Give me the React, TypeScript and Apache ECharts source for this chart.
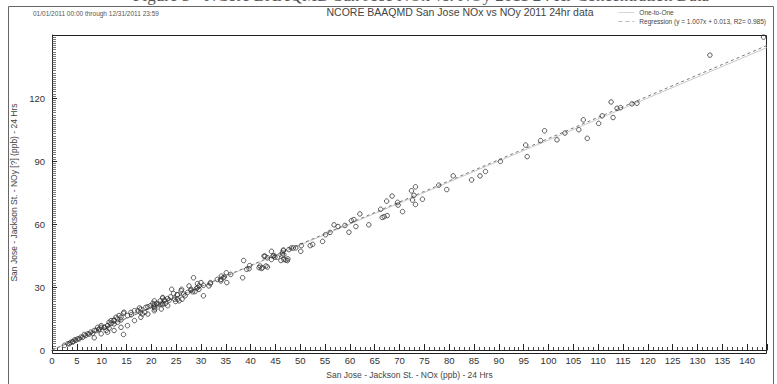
import React, { useEffect, useRef } from "react";
import * as echarts from "echarts";

// NOx (x) vs NOy (y), ppb, 24-hr values
const points: [number, number][] = [
  [143.3, 149], [132.5, 140.4], [117.8, 117.5], [116.8, 117.2], [114.5, 115.4], [113.8, 115.1],
  [112.6, 118.1], [113, 110.7], [110.8, 111.5], [110.1, 107.9], [107, 109.6], [107.8, 100.8],
  [106.1, 104.9], [103.3, 103.3], [101.7, 100.1], [98.4, 99.7], [99.2, 104.4], [95.4, 97.6],
  [95.7, 92.1], [90.3, 89.8], [87.3, 85], [86.2, 82.9], [84.5, 81], [80.8, 82.9], [79.5, 76.4],
  [77.9, 78.5], [74.6, 71.8], [73.2, 77.7], [72.4, 75.8], [72.9, 73.7], [72.6, 71.4], [73.2, 69.3],
  [70.6, 65.9], [69.6, 70.3], [69.7, 69], [68.5, 73.3], [67.4, 70.9], [67.5, 64], [66.5, 63.1],
  [66.9, 63.5], [66.2, 67], [63.8, 59.6], [62, 64.8], [60.8, 62.1], [60.3, 61.6], [61.2, 58.8],
  [59.8, 56.1], [59, 59.3], [57.6, 58.8], [56.8, 59.6], [56, 56], [55.1, 54.9], [54.5, 51.7],
  [52, 49.7], [52.5, 50.3], [50.2, 49.7], [50.1, 47],
  [49.1, 48.6], [48.6, 48.6], [48.2, 48.6], [47.7, 47.8], [47.5, 43.4], [47.1, 42.8], [46.4, 45.1],
  [46.6, 47.6], [46.6, 47.3], [46.4, 46.2], [46.7, 45.4], [47.4, 42.6], [46.7, 43.1], [46.1, 42.6],
  [44.2, 47], [44.5, 44.7], [44.9, 44.2], [44.2, 43.1], [44.7, 45], [45.4, 44.2], [42.7, 44.7],
  [42.9, 44.7], [43.4, 43.9], [41.7, 39.2], [42.2, 38.8], [43.1, 40], [41.9, 40], [42.4, 39.2],
  [43.4, 39.5], [39.7, 38.7], [39.8, 40.2], [39.2, 38.4], [38.6, 42.6], [38.4, 34.4],
  [36, 36], [35.1, 36.8], [34.5, 34.4], [34, 33.6], [33.3, 33.6], [34.7, 34.8], [34.1, 35.2],
  [35.2, 32.1], [34, 32.9], [31.9, 31.6], [31.6, 30.5], [31.9, 32.1], [30.5, 30.8], [30.5, 25.8],
  [30, 32.1], [29.3, 31.6], [29.6, 30.5], [29.1, 29.4], [29.3, 29.7], [29.6, 28.9], [28.5, 34.4],
  [28.3, 27.7], [28, 28.4], [28.8, 27.8], [28, 28.9], [27.6, 30.5], [27.3, 27.4], [26.8, 25.8],
  [26.5, 26.6], [26.1, 28.9], [26.2, 24.2], [25.6, 23.4], [25.3, 24.2], [24.9, 23.1], [25.2, 26.3],
  [26, 28.2], [25.3, 26.3], [23.9, 25.3], [23.3, 24.5], [22.7, 23.7], [22.3, 24.7], [22.3, 22.2],
  [21.8, 21.8], [21.3, 21.6], [24.5, 26.9], [24.7, 24.2], [23.6, 23.7], [24.1, 28.9], [22.3, 25],
  [22.6, 23.7], [21.8, 23.4], [22.9, 22.2], [22.3, 21.6], [20.6, 23.4], [20.3, 22.2], [21.1, 22.2],
  [19.8, 21.1], [20.6, 20.3], [20.6, 21.8], [20.5, 20.9], [20.7, 19.5], [19.3, 20.6], [18.9, 20.3],
  [17.9, 19.5], [17.6, 20], [17.3, 18.7], [18.2, 17.1], [17.8, 17.9], [18.7, 17.9], [16.6, 18.7],
  [15.9, 17.9], [16, 16.8], [15.2, 16.4], [14.4, 17.5], [14.5, 18], [14.4, 7.4], [13.5, 16.4],
  [12.9, 15.6], [12.5, 14.3], [11.9, 14], [11.5, 13.2], [13.9, 14.3], [13.2, 13.2], [12.5, 12.4],
  [11.2, 11.6], [10.5, 10.8], [10.9, 9.3], [11.5, 10.4], [9.9, 11.6], [9.2, 10.8], [9.4, 9.6],
  [8.5, 9.3], [7.8, 8.5], [7.2, 7.7], [6.5, 7.4], [5.8, 6.1], [5.2, 5.3], [4.6, 4.9], [4.2, 4.1],
  [3.7, 3.6], [3.2, 3], [2.5, 2.2],
  [3.5, 3], [4.2, 3.8], [4.8, 4.6], [5.5, 5.3], [6.2, 6.1], [6.8, 6.9], [7.5, 7.6], [8.2, 8],
  [8.9, 9.3], [9.5, 10], [9.9, 10.8], [10.6, 10.8], [11.2, 11.6], [11.9, 12.7], [12.5, 14],
  [13.2, 14.8], [13.9, 15.6], [8.5, 5.8], [9.9, 7.7], [11.2, 8.5], [12.5, 9.3], [13.9, 10.8],
  [15.2, 11.6], [16.6, 14], [17.9, 15.6], [19.3, 17.1], [20.6, 18.7], [22, 19.5], [23.3, 21.1],
];

const oneToOne: [number, number][] = [[0, 0], [144, 144]];
const regressionSlope = 1.007;
const regressionIntercept = 0.013;
const regressionLine: [number, number][] = [0, 144].map(
  (x) => [x, regressionSlope * x + regressionIntercept] as [number, number]
);

const titleText = "NCORE BAAQMD San Jose NOx vs NOy 2011 24hr data";
const periodText = "01/01/2011 00:00 through 12/31/2011 23:59";
const figureCaption = "Figure 5 - NCore BAAQMD San Jose NOx vs. NOy 2011 24 Hr Concentration Data";
const xAxisName = "San Jose - Jackson St. - NOx (ppb) - 24 Hrs";
const yAxisName = "San Jose - Jackson St. - NOy [?] (ppb) - 24 Hrs";
const legendOneToOne = "One-to-One";
const legendRegression = "Regression (y = 1.007x + 0.013, R2= 0.985)";

const FONT = "'Liberation Sans', Arial, sans-serif";

export default function App() {
  const ref = useRef<HTMLDivElement>(null);
  useEffect(() => {
    if (!ref.current) return;
    const chart = echarts.init(ref.current, undefined, { renderer: "svg" });
    chart.setOption({
      animation: false,
      backgroundColor: "#ffffff",
      textStyle: { fontFamily: FONT },
      grid: { left: 52, right: 10, top: 35, bottom: 31, show: false },
      legend: {
        orient: "vertical",
        right: 6,
        top: 4,
        itemWidth: 16,
        itemHeight: 4,
        itemGap: 2,
        textStyle: { fontSize: 6.5, color: "#444", fontFamily: FONT },
        data: [
          { name: legendOneToOne, icon: "path://M0,0L16,0L16,0.6L0,0.6Z" },
          { name: legendRegression, icon: "path://M0,0L4,0L4,0.6L0,0.6ZM7,0L11,0L11,0.6L7,0.6ZM14,0L16,0L16,0.6L14,0.6Z" },
        ],
      },
      xAxis: {
        type: "value",
        min: 0,
        max: 144,
        interval: 5,
        name: xAxisName,
        nameLocation: "middle",
        nameGap: 20,
        nameTextStyle: { fontSize: 8.5, color: "#444" },
        axisLine: { show: true, lineStyle: { color: "#222", width: 1 } },
        axisTick: { show: true, inside: true, length: 6, lineStyle: { color: "#222" } },
        minorTick: { show: true, splitNumber: 5, length: 3, lineStyle: { color: "#444" } },
        axisLabel: { fontSize: 9.5, color: "#333", margin: 5, showMaxLabel: false },
        splitLine: { show: false },
      },
      yAxis: {
        type: "value",
        min: 0,
        max: 150,
        interval: 30,
        name: yAxisName,
        nameLocation: "middle",
        nameGap: 28,
        nameRotate: 90,
        nameTextStyle: { fontSize: 8.5, color: "#444" },
        axisLine: { show: true, lineStyle: { color: "#222", width: 1 } },
        axisTick: { show: true, inside: true, length: 5, lineStyle: { color: "#222" } },
        minorTick: { show: true, splitNumber: 30, length: 4, lineStyle: { color: "#555", width: 0.8 } },
        axisLabel: { fontSize: 9.5, color: "#333", margin: 7, showMaxLabel: false },
        splitLine: { show: false },
      },
      graphic: [
        {
          type: "rect",
          shape: { x: 8.5, y: 6.5, width: 765, height: 390 },
          style: { fill: "none", stroke: "#666", lineWidth: 1 },
          silent: true,
        },
        {
          type: "rect",
          shape: { x: 52.5, y: 35.5, width: 714, height: 318 },
          style: { fill: "none", stroke: "#222", lineWidth: 1 },
          silent: true,
        },
        {
          type: "text",
          x: 133,
          y: -13,
          style: { text: figureCaption, font: "17px 'Liberation Serif', serif", fill: "#555" },
          silent: true,
        },
        {
          type: "text",
          x: 33,
          y: 10,
          style: { text: periodText, font: `6.5px ${FONT}`, fill: "#555" },
          silent: true,
        },
        {
          type: "text",
          x: 460,
          y: 6,
          style: { text: titleText, font: `10.5px ${FONT}`, fill: "#444", align: "center" },
          silent: true,
        },
      ],
      series: [
        {
          name: "NOx vs NOy",
          type: "scatter",
          data: points,
          symbol: "circle",
          symbolSize: 4.5,
          itemStyle: { color: "rgba(255,255,255,0)", borderColor: "#333", borderWidth: 1 },
          z: 3,
        },
        {
          name: legendOneToOne,
          type: "line",
          data: oneToOne,
          symbol: "none",
          lineStyle: { color: "#bbbbbb", width: 0.8, type: "solid" },
          itemStyle: { color: "#bbbbbb" },
          z: 2,
        },
        {
          name: legendRegression,
          type: "line",
          data: regressionLine,
          symbol: "none",
          lineStyle: { color: "#777777", width: 1, type: [3, 3] },
          itemStyle: { color: "#777777" },
          z: 2,
        },
      ],
    });
    return () => chart.dispose();
  }, []);
  return (
    <div
      ref={ref}
      style={{ position: "fixed", left: 0, top: 0, width: 777, height: 384 }}
    />
  );
}
